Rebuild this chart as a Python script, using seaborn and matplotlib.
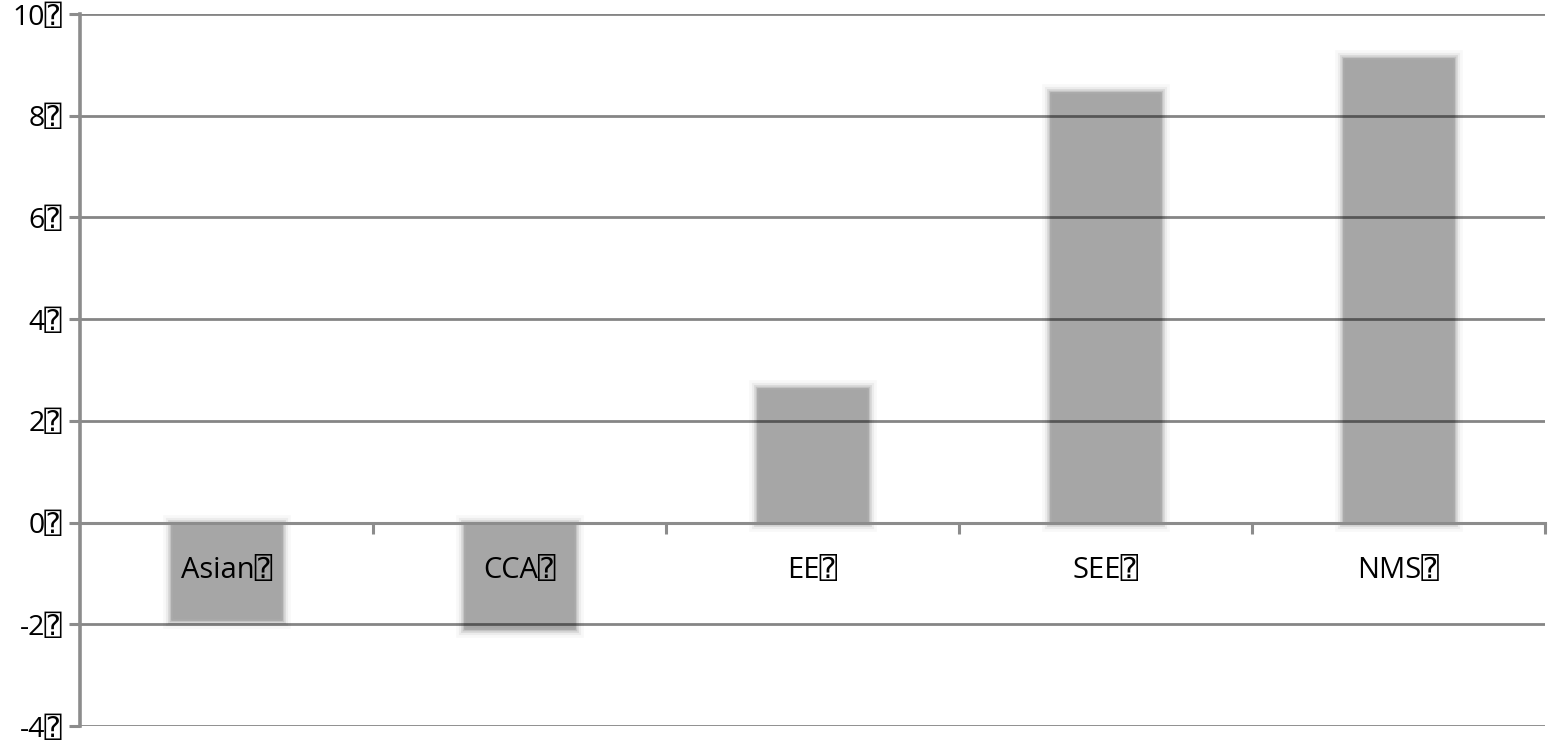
import matplotlib
matplotlib.use("Agg")
import matplotlib.pyplot as plt
import seaborn as sns
import pandas as pd
from matplotlib.ticker import FixedLocator, FixedFormatter

# Data
categories = ["Asian", "CCA", "EE", "SEE", "NMS"]
values = [-1.92, -2.1, 2.65, 8.47, 9.13]
y_ticks = [-4, -2, 0, 2, 4, 6, 8, 10]
BOX = "\u2370"
x_labels = [c + BOX for c in categories]
y_labels = [f"{t}{BOX}" for t in y_ticks]

df = pd.DataFrame({"cat": categories, "val": values})

sns.set_theme(style="white")
plt.rcParams["font.family"] = ["Open Sans", "DejaVu Sans", "DejaVu Sans Mono"]

fig = plt.figure(figsize=(15.48, 7.45), dpi=100)
ax = fig.add_axes([80 / 1548, 1 - 726 / 745, 1465 / 1548, 712 / 745])

bar_color = "#a6a6a6"
# soft glow layers
for lw, a in [(12, 0.08), (8, 0.15), (5, 0.28), (2.5, 0.5)]:
    sns.barplot(data=df, x="cat", y="val", order=categories, color=bar_color,
                width=0.38, ax=ax, saturation=1, errorbar=None,
                edgecolor=(0.68, 0.68, 0.68, a), linewidth=lw, zorder=1)

ax.set_ylim(-4, 10)
ax.set_xlim(-0.5, len(categories) - 0.5)
ax.set_xlabel("")
ax.set_ylabel("")

# y axis
ax.yaxis.set_major_locator(FixedLocator(y_ticks))
ax.yaxis.set_major_formatter(FixedFormatter(y_labels))
ax.tick_params(axis="y", which="major", length=8, width=2.2, color="#8c8c8c",
               direction="out", labelsize=20.5, pad=5, left=True, labelcolor="black")

# gridlines over bars
ax.set_axisbelow(False)
ax.grid(axis="y", color="black", alpha=0.48, linewidth=2.0, zorder=3)
ax.grid(axis="x", visible=False)

# x axis at zero
ax.spines["bottom"].set_position(("data", 0))
ax.spines["bottom"].set_color("#8c8c8c")
ax.spines["bottom"].set_linewidth(2.2)
ax.spines["bottom"].set_zorder(4)
ax.spines["left"].set_color("#8c8c8c")
ax.spines["left"].set_linewidth(2.6)
ax.spines["left"].set_zorder(4)
ax.spines["top"].set_visible(False)
ax.spines["right"].set_visible(False)

n = len(categories)
ax.xaxis.set_major_locator(FixedLocator([i + 0.5 for i in range(n)]))
ax.xaxis.set_major_formatter(FixedFormatter([""] * n))
ax.xaxis.set_minor_locator(FixedLocator(list(range(n))))
ax.xaxis.set_minor_formatter(FixedFormatter(x_labels))
ax.tick_params(axis="x", which="major", length=8, width=2.2, color="#8c8c8c",
               direction="out", bottom=True)
ax.tick_params(axis="x", which="minor", length=0, labelsize=21, pad=24,
               bottom=True, labelcolor="black")

fig.savefig("out.png", dpi=100, facecolor="white")
